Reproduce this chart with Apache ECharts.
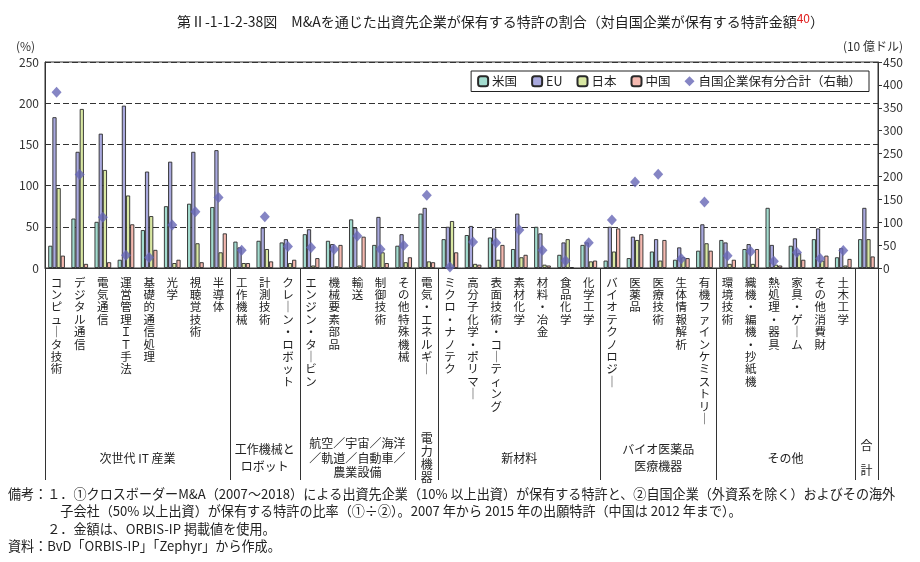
<!DOCTYPE html>
<html>
<head>
<meta charset="utf-8">
<script src="https://cdn.jsdelivr.net/npm/echarts@6/dist/echarts.min.js"></script>
<style>
  html, body { margin: 0; padding: 0; background: #fff; }
  #chart { width: 920px; height: 562px; }
</style>
</head>
<body>
<div id="chart"></div>
<script>
// カテゴリ（最後は合計）
var categories = [
  'コンピュータ技術', 'デジタル通信', '電気通信', '運営管理ＩＴ手法', '基礎的通信処理', '光学', '視聴覚技術', '半導体',
  '工作機械', '計測技術', 'クレーン・ロボット',
  'エンジン・タービン', '機械要素部品', '輸送', '制御技術', 'その他特殊機械',
  '電気・エネルギー',
  'ミクロ・ナノテク', '高分子化学・ポリマー', '表面技術・コーティング', '素材化学', '材料・冶金', '食品化学', '化学工学',
  'バイオテクノロジー', '医薬品', '医療技術', '生体情報解析', '有機ファインケミストリー',
  '環境技術', '織機・編機・抄紙機', '熱処理・器具', '家具・ゲーム', 'その他消費財', '土木工学',
  '合計'
];

// 割合（%）
var usVals = [27, 60, 56, 10, 46, 75, 78, 74, 32, 33, 31, 41, 33, 59, 28, 27, 66, 35, 40, 37, 23, 50, 16, 28, 9, 12, 20, 10, 21, 34, 23, 73, 27, 35, 13, 35];
var euVals = [183, 141, 163, 197, 117, 129, 141, 143, 25, 49, 35, 47, 29, 49, 62, 41, 73, 50, 51, 48, 66, 42, 31, 31, 50, 38, 35, 25, 53, 31, 29, 28, 36, 48, 24, 73];
var jpVals = [97, 193, 119, 88, 63, 6, 30, 19, 6, 23, 6, 3, 2, 3, 19, 7, 8, 57, 5, 10, 13, 4, 35, 8, 20, 34, 9, 13, 30, 5, 5, 4, 18, 9, 3, 35];
var cnVals = [15, 5, 7, 53, 22, 10, 7, 42, 6, 8, 10, 12, 28, 38, 6, 13, 7, 19, 4, 28, 16, 3, 1, 9, 48, 41, 34, 12, 21, 10, 23, 3, 10, 15, 11, 14];
// 自国企業保有分合計（10億ドル、右軸）
var ownVals = [384, 204, 111, 28, 23, 94, 123, 154, 39, 112, 47, 45, 41, 70, 41, 49, 159, 2, 57, 55, 83, 39, 16, 55, 105, 188, 205, 20, 144, 27, 36, 15, 34, 21, 38, null];

// 分野グループ
var groupNames = ['次世代 IT 産業', '工作機械と\nロボット', '航空／宇宙／海洋\n／軌道／自動車／\n農業設備', '電\n力\n機\n器', '新材料', 'バイオ医薬品\n医療機器', 'その他', '合\n計'];
var groupSizes = [8, 3, 5, 1, 7, 5, 6, 1];

var leftTicks = [0, 250, 50];
var rightTicks = [0, 450, 50];

var groupLineHeight = [14, 17, 14.5, 13, 14, 17, 14, 25];
var FONT = '"Noto Sans CJK JP", "Noto Sans", sans-serif';

var chart = echarts.init(document.getElementById('chart'));

function vertical(name) {
  if (name === '合計') return '';
  return name.replace(/ー/g, '｜').split('').join('\n');
}

function barSeries(name, data, color) {
  return {
    name: name,
    type: 'bar',
    data: data,
    barGap: '0%',
    barCategoryGap: '28%',
    itemStyle: { color: color, borderColor: '#2a2a2a', borderWidth: 0.9 },
    emphasis: { disabled: true }
  };
}

var option = {
  animation: false,
  textStyle: { fontFamily: FONT },
  title: {
    text: '{a|第Ⅱ-1-1-2-38図　M&Aを通じた出資先企業が保有する特許の割合（対自国企業が保有する特許金額}{s|40}{a|）}',
    left: 172,
    top: 7,
    textStyle: {
      fontWeight: 'normal',
      rich: {
        a: { fontSize: 14, color: '#222', fontFamily: FONT, fontWeight: 'normal' },
        s: { fontSize: 12, color: '#e02020', fontFamily: FONT, fontWeight: 'normal', padding: [0, 0, 8, 0] }
      }
    }
  },
  legend: {
    right: 51,
    top: 71,
    backgroundColor: '#fff',
    borderColor: '#222',
    borderWidth: 1,
    borderRadius: 0,
    padding: [4, 8, 4, 6],
    itemWidth: 10,
    itemHeight: 10,
    itemGap: 14,
    textStyle: { fontSize: 12.5, color: '#222', fontFamily: FONT, padding: [0, 0, 0, -1] },
    data: ['米国', 'EU', '日本', '中国', { name: '自国企業保有分合計（右軸）', icon: 'diamond' }]
  },
  grid: { left: 45, right: 42, top: 62, bottom: 294, show: true, borderColor: '#333', borderWidth: 1 },
  xAxis: {
    type: 'category',
    data: categories,
    axisLine: { lineStyle: { color: '#333' } },
    axisTick: { inside: true, length: 4, lineStyle: { color: '#555' } },
    axisLabel: {
      interval: 0,
      formatter: vertical,
      fontSize: 11.5,
      lineHeight: 12.4,
      color: '#222',
      verticalAlign: 'top',
      margin: 8,
      fontFamily: FONT
    }
  },
  yAxis: [
    {
      type: 'value',
      min: leftTicks[0], max: leftTicks[1], interval: leftTicks[2],
      axisLine: { show: true, lineStyle: { color: '#333' } },
      axisTick: { show: false },
      axisLabel: { fontSize: 12, color: '#333', margin: 6 },
      splitLine: { lineStyle: { color: '#333', type: [6, 3], width: 1 } }
    },
    {
      type: 'value',
      min: rightTicks[0], max: rightTicks[1], interval: rightTicks[2],
      axisLine: { show: true, lineStyle: { color: '#333' } },
      axisTick: { show: true, length: 4, lineStyle: { color: '#333' } },
      axisLabel: { fontSize: 12, color: '#333', margin: 5 },
      splitLine: { show: false }
    }
  ],
  series: [
    barSeries('米国', usVals, '#a3dccf'),
    barSeries('EU', euVals, '#a9a9de'),
    barSeries('日本', jpVals, '#d9e8a3'),
    barSeries('中国', cnVals, '#f5b9b0'),
    {
      name: '自国企業保有分合計（右軸）',
      type: 'scatter',
      yAxisIndex: 1,
      data: ownVals,
      symbol: 'diamond',
      symbolSize: [10, 11],
      itemStyle: { color: '#6767b5' },
      emphasis: { disabled: true },
      z: 5
    }
  ]
};

chart.setOption(option);

// グループ区切り線とグループ名
function drawGroups() {
  var x0 = chart.convertToPixel({ xAxisIndex: 0 }, 0);
  var x1 = chart.convertToPixel({ xAxisIndex: 0 }, 1);
  var band = x1 - x0;
  var yBottom = chart.convertToPixel({ yAxisIndex: 0 }, 0);
  var elements = [];
  var start = 0;
  var bounds = [0];
  groupSizes.forEach(function (n) { start += n; bounds.push(start); });
  bounds.forEach(function (b) {
    var x = Math.round(x0 - band / 2 + b * band) + 0.5;
    elements.push({
      type: 'line',
      shape: { x1: x, y1: yBottom, x2: x, y2: 480 },
      style: { stroke: '#333', lineWidth: 1 }
    });
  });
  groupNames.forEach(function (g, i) {
    var cx = x0 - band / 2 + (bounds[i] + bounds[i + 1]) / 2 * band;
    elements.push({
      type: 'text',
      x: cx,
      y: 458,
      style: {
        text: g,
        fontSize: 12,
        lineHeight: groupLineHeight[i],
        fill: '#222',
        align: 'center',
        verticalAlign: 'middle',
        fontFamily: FONT
      }
    });
  });
  elements.push({ type: 'text', x: 16, y: 46, style: { text: '(%)', fontSize: 12, fill: '#333', verticalAlign: 'middle', fontFamily: FONT } });
  elements.push({ type: 'text', x: 903, y: 46, style: { text: '(10 億ドル)', fontSize: 12, fill: '#333', align: 'right', verticalAlign: 'middle', fontFamily: FONT } });
  var notes = [
    '備考：１．①クロスボーダーM&A（2007〜2018）による出資先企業（10% 以上出資）が保有する特許と、②自国企業（外資系を除く）およびその海外',
    '　　　　子会社（50% 以上出資）が保有する特許の比率（①÷②）。2007 年から 2015 年の出願特許（中国は 2012 年まで）。',
    '　　　２．金額は、ORBIS-IP 掲載値を使用。',
    '資料：BvD「ORBIS-IP」「Zephyr」から作成。'
  ];
  notes.forEach(function (t, i) {
    elements.push({
      type: 'text', x: 8, y: 494 + i * 17.3,
      style: { text: t, fontSize: 13.1, fill: '#222', verticalAlign: 'middle', fontFamily: FONT }
    });
  });
  chart.setOption({ graphic: elements });
}
drawGroups();
</script>
</body>
</html>
